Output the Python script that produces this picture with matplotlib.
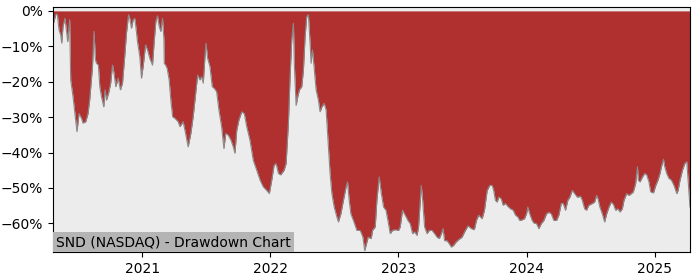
import numpy as np
import pandas as pd
import matplotlib
matplotlib.use('Agg')
import matplotlib.pyplot as plt
import matplotlib.dates as mdates
from matplotlib.ticker import FuncFormatter

# time axis as decimal years
t_year = [
    2020.305, 2020.326, 2020.339, 2020.352, 2020.365, 2020.373, 2020.383, 2020.398, 2020.406, 2020.420,
    2020.435, 2020.443, 2020.461, 2020.482, 2020.492, 2020.508, 2020.527, 2020.539, 2020.560, 2020.578,
    2020.591, 2020.613, 2020.625, 2020.636, 2020.644, 2020.659, 2020.670, 2020.683, 2020.701, 2020.711,
    2020.722, 2020.738, 2020.755, 2020.769, 2020.779, 2020.795, 2020.813, 2020.831, 2020.847, 2020.863,
    2020.878, 2020.894, 2020.904, 2020.917, 2020.930, 2020.943, 2020.951, 2020.964, 2020.982, 2020.995,
    2021.008, 2021.027, 2021.042, 2021.060, 2021.081, 2021.094, 2021.107, 2021.120, 2021.133, 2021.146,
    2021.159, 2021.170, 2021.173, 2021.183, 2021.195, 2021.211, 2021.224, 2021.238, 2021.255, 2021.281,
    2021.295, 2021.320, 2021.334, 2021.359, 2021.380, 2021.398, 2021.412, 2021.433, 2021.451, 2021.464,
    2021.477, 2021.490, 2021.498, 2021.511, 2021.529, 2021.547, 2021.563, 2021.581, 2021.599, 2021.620,
    2021.638, 2021.652, 2021.672, 2021.693, 2021.711, 2021.724, 2021.738, 2021.755, 2021.777, 2021.797,
    2021.816, 2021.841, 2021.867, 2021.894, 2021.920, 2021.945, 2021.972, 2021.992, 2022.011, 2022.029,
    2022.045, 2022.063, 2022.081, 2022.107, 2022.123, 2022.141, 2022.154, 2022.167, 2022.180, 2022.188,
    2022.201, 2022.214, 2022.227, 2022.245, 2022.258, 2022.271, 2022.284, 2022.297, 2022.310, 2022.318,
    2022.328, 2022.341, 2022.357, 2022.375, 2022.388, 2022.402, 2022.420, 2022.435, 2022.453, 2022.466,
    2022.480, 2022.498, 2022.519, 2022.531, 2022.550, 2022.570, 2022.591, 2022.602, 2022.615, 2022.628,
    2022.648, 2022.675, 2022.701, 2022.722, 2022.736, 2022.748, 2022.763, 2022.787, 2022.797, 2022.818,
    2022.831, 2022.849, 2022.866, 2022.883, 2022.902, 2022.917, 2022.935, 2022.953, 2022.974, 2023.000,
    2023.013, 2023.031, 2023.052, 2023.073, 2023.091, 2023.109, 2023.125, 2023.144, 2023.156, 2023.170,
    2023.177, 2023.188, 2023.203, 2023.222, 2023.240, 2023.261, 2023.281, 2023.300, 2023.318, 2023.334,
    2023.347, 2023.359, 2023.378, 2023.396, 2023.412, 2023.430, 2023.448, 2023.469, 2023.495, 2023.521,
    2023.542, 2023.568, 2023.591, 2023.607, 2023.625, 2023.652, 2023.670, 2023.691, 2023.711, 2023.730,
    2023.742, 2023.755, 2023.769, 2023.781, 2023.800, 2023.816, 2023.834, 2023.852, 2023.873, 2023.894,
    2023.912, 2023.930, 2023.945, 2023.964, 2023.982, 2023.998, 2024.008, 2024.023, 2024.042, 2024.055,
    2024.076, 2024.094, 2024.113, 2024.133, 2024.154, 2024.172, 2024.191, 2024.211, 2024.232, 2024.250,
    2024.269, 2024.284, 2024.302, 2024.320, 2024.336, 2024.355, 2024.373, 2024.394, 2024.420, 2024.433,
    2024.451, 2024.466, 2024.484, 2024.511, 2024.529, 2024.545, 2024.555, 2024.570, 2024.589, 2024.607,
    2024.623, 2024.641, 2024.659, 2024.675, 2024.693, 2024.711, 2024.727, 2024.745, 2024.758, 2024.779,
    2024.797, 2024.816, 2024.831, 2024.849, 2024.863, 2024.870, 2024.883, 2024.902, 2024.920, 2024.935,
    2024.953, 2024.966, 2024.988, 2025.006, 2025.023, 2025.039, 2025.050, 2025.066, 2025.076, 2025.091,
    2025.109, 2025.128, 2025.148, 2025.170, 2025.180, 2025.195, 2025.214, 2025.232, 2025.248, 2025.258,
    2025.273,
]

# drawdown in percent
drawdown = [
    -4.0, -1.1, -0.9, -5.4, -6.8, -9.1, -4.4, -2.1, -4.4, -8.7,
    -2.5, -19.5, -24.2, -30.8, -34.1, -29.0, -30.3, -31.7, -31.3, -29.0,
    -25.2, -15.7, -5.8, -13.8, -14.8, -15.3, -21.4, -24.2, -27.1, -22.3,
    -25.2, -23.3, -20.4, -15.3, -17.2, -21.4, -19.0, -22.3, -20.4, -13.4,
    -6.3, -1.1, -2.1, -4.9, -2.5, -2.1, -4.4, -8.7, -12.9, -19.0,
    -15.7, -9.6, -11.0, -13.4, -15.3, -8.7, -3.0, -1.4, -4.4, -5.8,
    -2.1, -8.0, -14.8, -15.3, -16.2, -19.5, -25.2, -29.9, -30.3, -31.3,
    -32.7, -31.3, -33.7, -38.4, -34.6, -29.9, -25.2, -18.1, -19.5, -18.6,
    -20.4, -12.9, -9.1, -13.4, -15.7, -21.4, -21.9, -22.8, -28.0, -32.7,
    -38.9, -34.6, -35.1, -36.5, -38.4, -40.2, -33.7, -30.8, -28.5, -29.0,
    -32.7, -36.5, -42.2, -45.0, -47.8, -49.7, -50.7, -51.6, -47.8, -43.6,
    -43.1, -45.9, -46.3, -45.0, -43.1, -31.7, -18.6, -8.2, -3.5, -15.7,
    -26.7, -24.2, -22.3, -21.4, -16.7, -7.3, -1.6, -1.1, -9.1, -14.8,
    -11.0, -15.7, -22.3, -25.2, -28.5, -27.1, -26.1, -28.0, -38.4, -45.9,
    -51.6, -55.4, -58.2, -59.6, -57.3, -53.5, -49.7, -48.3, -53.5, -57.3,
    -59.2, -62.0, -62.0, -63.9, -67.7, -66.0, -63.9, -64.3, -62.0, -61.0,
    -53.5, -46.9, -51.6, -55.4, -56.3, -59.2, -62.9, -62.0, -61.8, -62.0,
    -61.0, -56.3, -57.7, -59.2, -60.1, -62.9, -62.4, -63.4, -61.0, -53.5,
    -49.3, -53.5, -61.0, -62.9, -62.0, -62.0, -62.9, -63.9, -64.3, -62.9,
    -61.5, -64.9, -64.9, -65.8, -66.7, -66.2, -65.3, -64.6, -63.9, -62.0,
    -60.7, -61.5, -61.8, -59.2, -57.7, -58.7, -56.3, -50.7, -49.3, -49.3,
    -50.7, -53.5, -54.0, -52.6, -53.0, -54.9, -54.4, -55.2, -55.9, -56.3,
    -57.7, -58.2, -59.2, -59.0, -58.7, -57.3, -55.4, -57.3, -59.2, -59.9,
    -60.1, -61.5, -60.1, -59.2, -57.3, -56.9, -57.3, -59.2, -59.2, -57.7,
    -54.4, -54.4, -56.3, -53.5, -52.6, -50.7, -51.6, -52.6, -52.4, -53.5,
    -55.9, -56.3, -54.9, -54.4, -54.0, -52.1, -53.0, -55.4, -57.3, -59.6,
    -57.3, -55.4, -54.0, -54.6, -56.3, -55.9, -56.8, -55.9, -53.5, -51.6,
    -52.1, -51.6, -51.1, -48.7, -44.0, -47.8, -48.3, -46.9, -45.9, -46.3,
    -48.3, -51.1, -51.4, -49.3, -47.8, -45.9, -44.0, -41.9, -44.0, -45.9,
    -47.3, -47.8, -49.3, -51.6, -50.7, -47.8, -45.0, -43.1, -42.6, -47.8,
    -55.4,
]

ticker = "SND (NASDAQ) - Drawdown Chart"

# decimal years -> timestamps
yrs = np.array(t_year)
dates = pd.Timestamp('2021-01-01') + pd.to_timedelta((yrs - 2021) * 365.25, unit='D')
dd = np.array(drawdown)

fig = plt.figure(figsize=(7, 2.8), dpi=100)
ax = fig.add_axes([0.0757, 0.1, 0.91, 0.875])
ax.set_facecolor('#ececec')

ax.fill_between(dates, 0, dd, color='#b03030', linewidth=0)
ax.plot(dates, dd, color='#8a8a8a', linewidth=0.8)

ax.set_xlim(dates[0], dates[-1])
ax.set_ylim(-68.1, 1.1)
ax.set_yticks([0, -10, -20, -30, -40, -50, -60])
ax.yaxis.set_major_formatter(FuncFormatter(lambda v, p: f'{v:.0f}%'.replace('-', '\u2212')))
ax.xaxis.set_major_locator(mdates.YearLocator())
ax.xaxis.set_major_formatter(mdates.DateFormatter('%Y'))

ax.text(0.005, 0.012, ticker, transform=ax.transAxes, ha='left', va='bottom',
        fontsize=10, bbox=dict(boxstyle='square,pad=0.2', facecolor='#b4b4b4', edgecolor='none'))

fig.savefig('out.png', dpi=100)
